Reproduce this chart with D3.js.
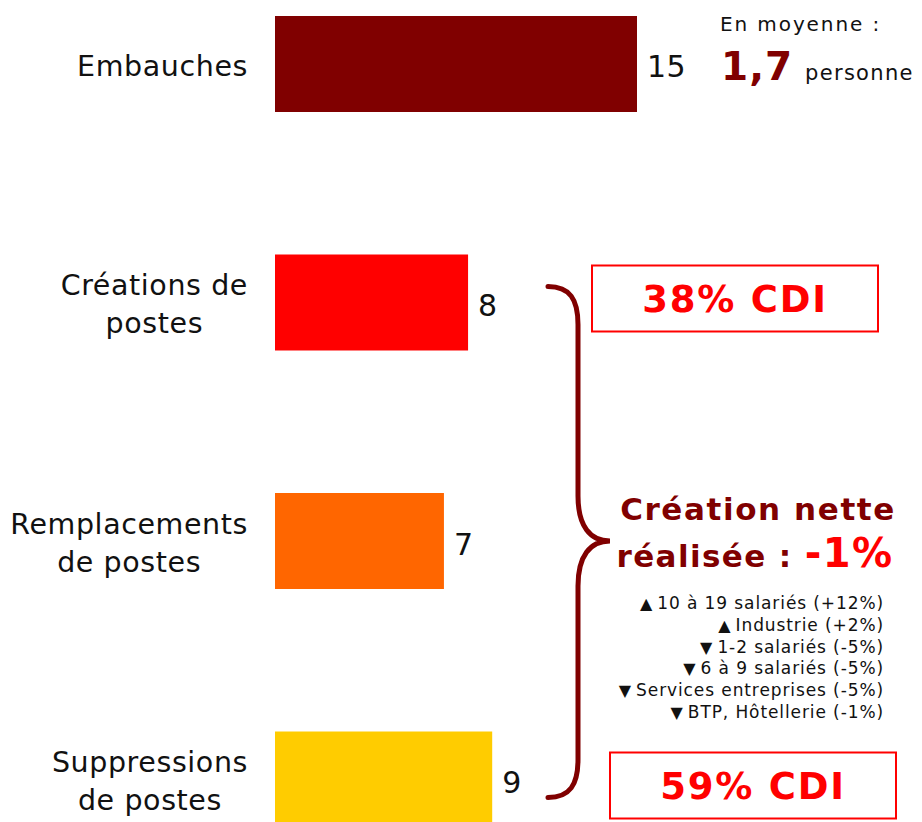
<!DOCTYPE html>
<html>
<head>
<meta charset="utf-8">
<script src="https://cdn.jsdelivr.net/npm/d3@7"></script>
<style>
  body { margin: 0; background: #fff; }
  text { font-family: "DejaVu Sans", Verdana, sans-serif; }
</style>
</head>
<body>
<div id="chart"></div>
<script>
// Data
let categories = ["Embauches", "Créations de postes", "Remplacements de postes", "Suppressions de postes"];
let labelLines = [["Embauches"], ["Créations de", "postes"], ["Remplacements", "de postes"], ["Suppressions", "de postes"]];
let values = [15, 8, 7, 9];
let barColors = ["#800000", "#ff0000", "#ff6600", "#ffcc00"];

let averageValue = "1,7";
let cdiShares = ["38% CDI", "59% CDI"];
let netCreation = "-1%";
let noteArrows = ["▲", "▲", "▼", "▼", "▼", "▼"];
let noteTexts = ["10 à 19 salariés (+12%)", "Industrie (+2%)", "1-2 salariés (-5%)",
                 "6 à 9 salariés (-5%)", "Services entreprises (-5%)", "BTP, Hôtellerie (-1%)"];

// svg attributes
let svgWidth = 922;
let svgHeight = 822;
let darkRed = "#800000";

let svg = d3.select("#chart")
  .append("svg")
  .attr("width", svgWidth)
  .attr("height", svgHeight);

// scales
let xScale = d3.scaleLinear()
  .domain([0, 15])
  .range([275, 637]);

let yScale = d3.scaleBand()
  .domain(categories)
  .range([16, 827.5])
  .paddingInner(0.5975)
  .paddingOuter(0);

let bw = yScale.bandwidth();

// bars
svg.selectAll("rect.bar")
  .data(values)
  .enter()
  .append("rect")
  .attr("class", "bar")
  .attr("x", xScale(0))
  .attr("y", (d, i) => yScale(categories[i]))
  .attr("width", d => xScale(d) - xScale(0))
  .attr("height", bw)
  .attr("fill", (d, i) => barColors[i]);

// value labels
svg.selectAll("text.value")
  .data(values)
  .enter()
  .append("text")
  .attr("class", "value")
  .attr("x", d => xScale(d) + 10)
  .attr("y", (d, i) => yScale(categories[i]) + bw / 2 + 3)
  .attr("dy", "0.35em")
  .attr("font-size", 30)
  .attr("letter-spacing", 0.5)
  .attr("fill", "#111")
  .text(d => d);

// category labels: lines centred inside a block right-aligned at x=248
let labelRight = 248;
let lineGap = 38;
labelLines.forEach((lines, i) => {
  let cy = yScale(categories[i]) + bw / 2 + 2;
  let t = svg.append("text")
    .attr("font-size", 28.5)
    .attr("letter-spacing", 0.6)
    .attr("fill", "#111")
    .attr("text-anchor", "middle");
  lines.forEach((ln, j) => {
    t.append("tspan")
      .attr("x", 0)
      .attr("y", cy + (j - (lines.length - 1) / 2) * lineGap)
      .attr("dy", "0.35em")
      .text(ln);
  });
  let w = d3.max(t.selectAll("tspan").nodes(), n => n.getComputedTextLength());
  t.attr("transform", `translate(${labelRight - w / 2},0)`);
});

// average note top right
svg.append("text")
  .attr("x", 720)
  .attr("y", 31)
  .attr("font-size", 20)
  .attr("letter-spacing", 1.9)
  .attr("fill", "#111")
  .text("En moyenne :");

let avg = svg.append("text")
  .attr("x", 721)
  .attr("y", 80)
  .attr("fill", "#111");
avg.append("tspan")
  .attr("font-size", 39)
  .attr("font-weight", "bold")
  .attr("letter-spacing", 1)
  .attr("fill", darkRed)
  .text(averageValue);
avg.append("tspan")
  .attr("dx", 12)
  .attr("font-size", 21)
  .attr("letter-spacing", 1.3)
  .text("personne");

// brace grouping the three lower bars
let bTop = yScale(categories[1]) + 32;
let bBot = yScale(categories[3]) + 66;
let bMid = (bTop + bBot) / 2 - 1;
let bx0 = 548, bx1 = 578, bTip = 610;
let brace = d3.path();
brace.moveTo(bx0, bTop);
brace.bezierCurveTo(bx1 - 8, bTop, bx1, bTop + 13, bx1, bTop + 38);
brace.lineTo(bx1, bMid - 45);
brace.bezierCurveTo(bx1, bMid - 15, bx1 + 12, bMid, bTip, bMid);
brace.bezierCurveTo(bx1 + 12, bMid, bx1, bMid + 15, bx1, bMid + 45);
brace.lineTo(bx1, bBot - 38);
brace.bezierCurveTo(bx1, bBot - 13, bx1 - 8, bBot, bx0, bBot);
svg.append("path")
  .attr("d", brace.toString())
  .attr("fill", "none")
  .attr("stroke", darkRed)
  .attr("stroke-width", 5)
  .attr("stroke-linecap", "round");

// CDI boxes
let boxes = [
  { x: 592, cat: categories[1], text: cdiShares[0] },
  { x: 610, cat: categories[3], text: cdiShares[1] }
];
let boxW = 286, boxH = 66;
boxes.forEach((b, i) => {
  let cy = i === 0 ? yScale(b.cat) + bw / 2 - 4 : yScale(b.cat) + bw / 2 + 6;
  svg.append("rect")
    .attr("x", b.x)
    .attr("y", cy - boxH / 2)
    .attr("width", boxW)
    .attr("height", boxH)
    .attr("fill", "none")
    .attr("stroke", "#ff0000")
    .attr("stroke-width", 2);
  svg.append("text")
    .attr("x", b.x + boxW / 2)
    .attr("y", cy)
    .attr("dy", "0.36em")
    .attr("text-anchor", "middle")
    .attr("font-size", 37)
    .attr("font-weight", "bold")
    .attr("letter-spacing", 1.8)
    .attr("fill", "#ff0000")
    .text(b.text);
});

// net creation
svg.append("text")
  .attr("x", 758)
  .attr("y", 520)
  .attr("text-anchor", "middle")
  .attr("font-size", 31)
  .attr("font-weight", "bold")
  .attr("letter-spacing", 1.6)
  .attr("fill", darkRed)
  .text("Création nette");

let net = svg.append("text")
  .attr("x", 755)
  .attr("y", 567)
  .attr("text-anchor", "middle")
  .attr("font-weight", "bold")
  .attr("letter-spacing", 1.4)
  .attr("fill", darkRed);
net.append("tspan").attr("font-size", 31).text("réalisée : ");
net.append("tspan").attr("font-size", 40).attr("fill", "#ff0000").text(netCreation);

// notes list
let notes = svg.append("g");
noteTexts.forEach((txt, i) => {
  let t = notes.append("text")
    .attr("x", 884)
    .attr("y", 609 + i * 21.8)
    .attr("text-anchor", "end")
    .attr("font-size", 17)
    .attr("letter-spacing", 0.9)
    .attr("fill", "#111");
  t.append("tspan").attr("font-size", 16).attr("letter-spacing", 0).text(noteArrows[i] + " ");
  t.append("tspan").text(txt);
});
</script>
</body>
</html>
